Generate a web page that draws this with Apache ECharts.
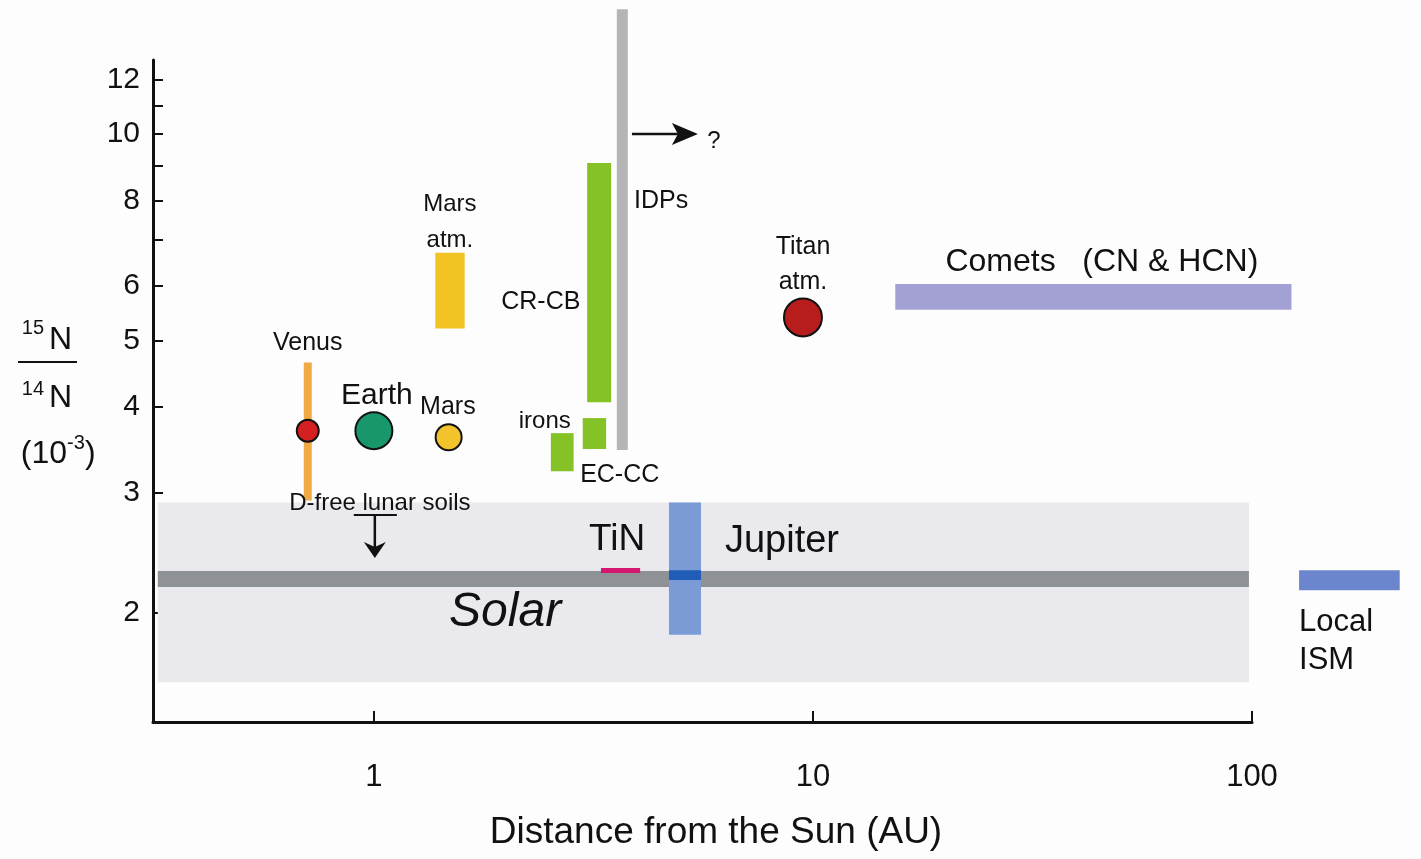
<!DOCTYPE html>
<html><head><meta charset="utf-8">
<script src="https://cdn.jsdelivr.net/npm/echarts@6/dist/echarts.min.js"></script>
<style>html,body{margin:0;padding:0;background:#fdfdfd;}#c{width:1421px;height:859px;}</style>
</head><body><div id="c"></div>
<script>
// x: distance from the Sun (AU); y: 15N/14N ratio (10^-3). Both axes logarithmic.
const xTickValues = [1, 10, 100];
const yTickValues = [2, 3, 4, 5, 6, 7, 8, 9, 10, 11, 12];
const yLabelValues = [2, 3, 4, 5, 6, 8, 10, 12];
const xRange = [0.314, 100];
const yRange = [1.387, 12.82];

// ranges: [xMin, xMax, yMin, yMax]
const solarRange   = [0.322, 98.4, 1.585, 2.90];
const solarValue   = [0.322, 98.4, 2.183, 2.303];
const jupiterRange = [4.70, 5.56, 1.86, 2.90];
const jupiterValue = [4.70, 5.56, 2.234, 2.31];
const tinRange     = [3.29, 4.04, 2.288, 2.326];
const localISM     = [128, 217, 2.16, 2.31];
const comets       = [15.4, 123, 5.54, 6.04];
const marsAtm      = [1.38, 1.61, 5.20, 6.71];
const crcb         = [3.06, 3.47, 4.06, 9.07];
const irons        = [2.99, 3.38, 3.47, 3.85];
const eccc         = [2.53, 2.85, 3.22, 3.66];

// vertical spans: [x, yMin, yMax]
const venusSpan = [0.707, 2.92, 4.64];
const idpSpan   = [3.68, 3.46, 15.2];

// points: [x, y]
const venus = [0.707, 3.69];
const earth = [1.0, 3.69];
const mars  = [1.48, 3.61];
const titan = [9.49, 5.40];

// arrows
const idpArrow   = [3.87, 5.47, 10.0];   // xFrom, xTo, y
const lunarBar   = [0.90, 1.128, 2.78];  // xFrom, xTo, y
const lunarArrow = [1.005, 2.78, 2.406]; // x, yFrom, yTo

// annotation texts and their anchors (data units)
const labelTexts = ['Venus', 'Earth', 'Mars', 'Mars\natm.', 'D-free lunar soils', 'CR-CB', 'irons', 'EC-CC', 'IDPs', '?', 'Titan\natm.', 'Comets   (CN & HCN)', 'TiN', 'Jupiter', 'Solar', 'Local\nISM'];
const labelX = [0.707, 1.016, 1.474, 1.49, 1.032, 2.40, 2.45, 3.63, 4.51, 5.95, 9.49, 45.5, 3.58, 8.50, 1.99, 128];
const labelY = [4.95, 4.15, 4.00, 7.44, 2.894, 5.69, 3.81, 3.18, 7.99, 9.77, 6.44, 6.49, 2.556, 2.54, 2.0, 1.82];

// ---------- styles ----------
const FONT = "'Liberation Sans', Arial, Helvetica, sans-serif";
const INK = '#111111';
const boxList = [solarRange, solarValue, jupiterRange, jupiterValue, tinRange, localISM, comets, marsAtm, crcb, irons, eccc];
const boxColors = ['#e9e9ee', '#8e9196', '#7b9bd7', '#1f5db6', '#d5166f', '#6b86cc', '#a3a1d3', '#f1c424', '#85c226', '#85c226', '#85c226'];
const spanList = [venusSpan, idpSpan];
const spanColors = ['#f0aa45', '#b5b5b5'];
const spanWidths = [8, 11];
const pointList = [venus, earth, mars, titan];
const pointColors = ['#d42020', '#18976a', '#f2c32b', '#b71d1d'];
const pointSizes = [22, 37, 26, 38];
const labelStyles = [
  {fontSize: 25}, {fontSize: 30}, {fontSize: 25}, {fontSize: 24, lineHeight: 36},
  {fontSize: 24}, {fontSize: 25}, {fontSize: 24}, {fontSize: 25}, {fontSize: 25},
  {fontSize: 24}, {fontSize: 25, lineHeight: 35}, {fontSize: 32}, {fontSize: 37},
  {fontSize: 38}, {fontSize: 48, fontStyle: 'italic'}, {fontSize: 31, lineHeight: 38, align: 'left'}
];

const L = Math.log10;
const chart = echarts.init(document.getElementById('c'), null, {renderer: 'canvas'});

function boxItem(params, api) {
  const p0 = api.coord([api.value(0), api.value(3)]);
  const p1 = api.coord([api.value(1), api.value(2)]);
  return {type: 'rect', shape: {x: p0[0], y: p0[1], width: p1[0] - p0[0], height: p1[1] - p0[1]},
          style: {fill: boxColors[params.dataIndex]}};
}
function spanItem(params, api) {
  const p0 = api.coord([api.value(0), api.value(1)]);
  const p1 = api.coord([api.value(0), api.value(2)]);
  return {type: 'line', shape: {x1: p0[0], y1: p0[1], x2: p1[0], y2: p1[1]},
          style: {stroke: spanColors[params.dataIndex], lineWidth: spanWidths[params.dataIndex]}};
}
function labelItem(params, api) {
  const p = api.coord([api.value(0), api.value(1)]);
  const s = labelStyles[params.dataIndex];
  return {type: 'text', x: p[0], y: p[1], style: Object.assign({
    text: labelTexts[params.dataIndex], fontFamily: FONT, fill: INK, align: 'center', verticalAlign: 'middle'}, s)};
}
function arrowItem(params, api) {
  const i = params.dataIndex;
  if (i === 0) { // horizontal arrow
    const a = api.coord([api.value(0), api.value(2)]);
    const b = api.coord([api.value(1), api.value(2)]);
    const len = 26, h = 11, notch = 6;
    return {type: 'group', children: [
      {type: 'line', shape: {x1: a[0], y1: a[1], x2: b[0] - len + notch, y2: b[1]}, style: {stroke: INK, lineWidth: 2.5}},
      {type: 'polygon', shape: {points: [[b[0], b[1]], [b[0] - len, b[1] - h], [b[0] - len + notch, b[1]], [b[0] - len, b[1] + h]]}, style: {fill: INK}}
    ]};
  } else if (i === 1) { // horizontal bar
    const a = api.coord([api.value(0), api.value(2)]);
    const b = api.coord([api.value(1), api.value(2)]);
    return {type: 'line', shape: {x1: a[0], y1: a[1], x2: b[0], y2: b[1]}, style: {stroke: INK, lineWidth: 2}};
  } else { // vertical arrow down
    const a = api.coord([api.value(0), api.value(1)]);
    const b = api.coord([api.value(0), api.value(2)]);
    const len = 16, h = 11, notch = 5;
    return {type: 'group', children: [
      {type: 'line', shape: {x1: a[0], y1: a[1], x2: b[0], y2: b[1] - len + notch}, style: {stroke: INK, lineWidth: 2.5}},
      {type: 'polygon', shape: {points: [[b[0], b[1]], [b[0] - h, b[1] - len], [b[0], b[1] - len + notch], [b[0] + h, b[1] - len]]}, style: {fill: INK}}
    ]};
  }
}

const option = {
  backgroundColor: '#fdfdfd',
  animation: false,
  grid: {left: 153, right: 169, top: 60, bottom: 137, containLabel: false},
  xAxis: {
    type: 'value', min: L(xRange[0]), max: L(xRange[1]),
    axisLine: {onZero: false, lineStyle: {color: INK, width: 3}},
    axisTick: {inside: true, length: 11, lineStyle: {color: INK, width: 2}, customValues: xTickValues.map(L)},
    axisLabel: {customValues: xTickValues.map(L), formatter: v => String(Math.round(Math.pow(10, v))),
                fontSize: 31, color: INK, margin: 40, fontFamily: FONT},
    splitLine: {show: false}
  },
  yAxis: {
    type: 'value', min: L(yRange[0]), max: L(yRange[1]),
    axisLine: {onZero: false, lineStyle: {color: INK, width: 3}},
    axisTick: {inside: true, length: 10, lineStyle: {color: INK, width: 2}, customValues: yTickValues.map(L)},
    axisLabel: {customValues: yLabelValues.map(L), formatter: v => String(Math.round(Math.pow(10, v))),
                fontSize: 30, color: INK, margin: 13, fontFamily: FONT},
    splitLine: {show: false}
  },
  series: [
    {type: 'custom', name: 'ranges', renderItem: boxItem, clip: false, z: 1,
     data: boxList.map(b => [L(b[0]), L(b[1]), L(b[2]), L(b[3])])},
    {type: 'custom', name: 'spans', renderItem: spanItem, clip: false, z: 2,
     data: spanList.map(s => [L(s[0]), L(s[1]), L(s[2])])},
    {type: 'scatter', name: 'planets', z: 3, clip: false,
     data: pointList.map((p, i) => ({value: [L(p[0]), L(p[1])], symbolSize: pointSizes[i],
       itemStyle: {color: pointColors[i], borderColor: INK, borderWidth: 2, opacity: 1}}))},
    {type: 'custom', name: 'arrows', renderItem: arrowItem, clip: false, z: 4,
     data: [[L(idpArrow[0]), L(idpArrow[1]), L(idpArrow[2])],
            [L(lunarBar[0]), L(lunarBar[1]), L(lunarBar[2])],
            [L(lunarArrow[0]), L(lunarArrow[1]), L(lunarArrow[2])]]},
    {type: 'custom', name: 'labels', renderItem: labelItem, clip: false, z: 5,
     data: labelX.map((x, i) => [L(x), L(labelY[i])])}
  ],
  graphic: [
    {type: 'text', x: 716, y: 833, style: {text: 'Distance from the Sun (AU)', fontSize: 37, fontFamily: FONT, fill: INK, align: 'center', verticalAlign: 'middle'}},
    {type: 'text', x: 44, y: 328, style: {text: '15', fontSize: 20, fontFamily: FONT, fill: INK, align: 'right', verticalAlign: 'middle'}},
    {type: 'text', x: 49, y: 340, style: {text: 'N', fontSize: 32, fontFamily: FONT, fill: INK, align: 'left', verticalAlign: 'middle'}},
    {type: 'line', shape: {x1: 18, y1: 362, x2: 77, y2: 362}, style: {stroke: INK, lineWidth: 2}},
    {type: 'text', x: 44, y: 389, style: {text: '14', fontSize: 20, fontFamily: FONT, fill: INK, align: 'right', verticalAlign: 'middle'}},
    {type: 'text', x: 49, y: 398, style: {text: 'N', fontSize: 32, fontFamily: FONT, fill: INK, align: 'left', verticalAlign: 'middle'}},
    {type: 'text', x: 67, y: 454, style: {text: '(10', fontSize: 32, fontFamily: FONT, fill: INK, align: 'right', verticalAlign: 'middle'}},
    {type: 'text', x: 67, y: 443, style: {text: '-3', fontSize: 20, fontFamily: FONT, fill: INK, align: 'left', verticalAlign: 'middle'}},
    {type: 'text', x: 85, y: 454, style: {text: ')', fontSize: 32, fontFamily: FONT, fill: INK, align: 'left', verticalAlign: 'middle'}}
  ]
};
chart.setOption(option);
</script>
</body></html>
